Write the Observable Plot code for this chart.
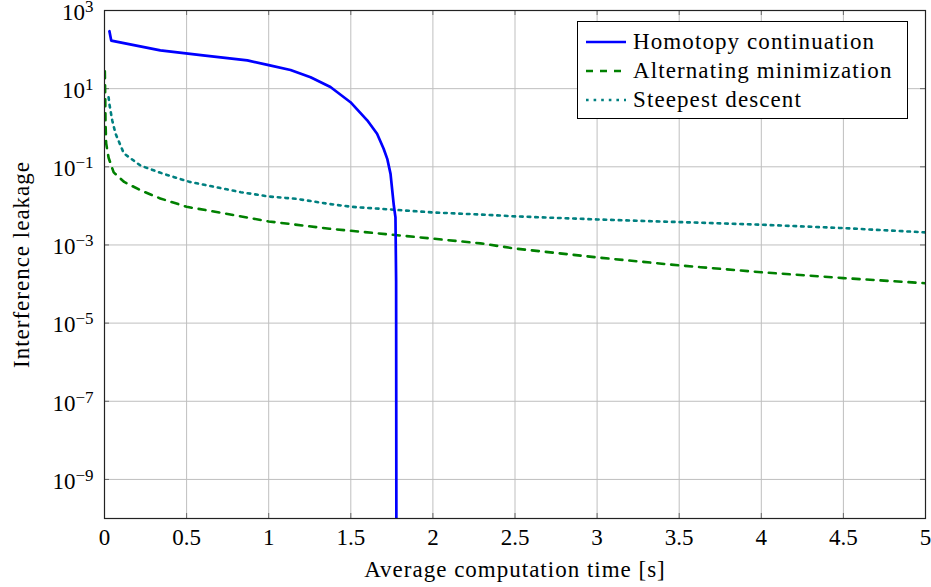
<!DOCTYPE html>
<html>
<head>
<meta charset="utf-8">
<script src="https://cdn.jsdelivr.net/npm/d3@7"></script>
<script src="https://cdn.jsdelivr.net/npm/@observablehq/plot@0.6"></script>
<style>
  html, body { margin: 0; padding: 0; background: #fff; }
  #wrap { position: relative; width: 931px; height: 587px; font-family: "Liberation Serif", "Times New Roman", serif; }
  #legend {
    position: absolute; left: 577px; top: 21px; width: 331px; height: 98px;
    border: 1px solid #000; background: #fff; box-sizing: border-box;
  }
  #legend .row { position: absolute; left: 8px; height: 29px; display: flex; align-items: center; font-size: 23px; letter-spacing: 1.1px; white-space: nowrap; }
  #legend svg { margin-right: 7px; }
</style>
</head>
<body>
<div id="wrap"></div>
<script>
// Homotopy continuation: time (s) and interference leakage
const homotopyTime = [0.03, 0.041, 0.34, 0.6, 0.87, 1.0, 1.133, 1.255, 1.376, 1.498, 1.6, 1.66, 1.70, 1.722, 1.742, 1.762, 1.772, 1.776, 1.778];
const homotopyLeak = [295, 170, 95, 71, 53, 40, 30, 19.5, 11, 4.5, 1.55, 0.70, 0.29, 0.16, 0.066, 0.0102, 0.0051, 1.2e-4, 1e-12];

// Alternating minimization
const altTime = [0.002, 0.004, 0.006, 0.01, 0.025, 0.056, 0.12, 0.22, 0.34, 0.5, 0.75, 1.0, 1.37, 2.0, 2.29, 2.5, 3.0, 3.5, 3.63, 4.0, 4.5, 5.0];
const altLeak = [28, 8, 1.5, 0.4, 0.17, 0.072, 0.041, 0.025, 0.0155, 0.0095, 0.0062, 0.0040, 0.0026, 0.00145, 0.0011, 8.1e-4, 4.8e-4, 3.0e-4, 2.7e-4, 2.0e-4, 1.42e-4, 1.05e-4];

// Steepest descent
const sdTime = [0.025, 0.03, 0.047, 0.067, 0.118, 0.22, 0.36, 0.52, 0.83, 1.0, 1.17, 1.37, 1.5, 2.0, 2.29, 2.5, 3.0, 3.63, 4.0, 4.5, 5.0];
const sdLeak = [6, 4, 1.55, 0.71, 0.22, 0.107, 0.066, 0.041, 0.0224, 0.0174, 0.0151, 0.0112, 0.0095, 0.0068, 0.006, 0.0054, 0.0045, 0.0037, 0.0033, 0.0027, 0.0021];

const xTicks = [0, 0.5, 1, 1.5, 2, 2.5, 3, 3.5, 4, 4.5, 5];
const yTicks = [1e-9, 1e-7, 1e-5, 1e-3, 1e-1, 1e1, 1e3];

const seriesNames = ["Homotopy continuation", "Alternating minimization", "Steepest descent"];
const seriesColors = ["#0000ff", "#008000", "#008080"];
const seriesDash = [null, "7,7", "2.6,5"];

const toRows = (t, v) => t.map((x, i) => ({x, y: v[i]}));
const homotopy = toRows(homotopyTime, homotopyLeak);
const alternating = toRows(altTime, altLeak);
const steepest = toRows(sdTime, sdLeak);

const W = 931, H = 587, mL = 104, mR = 6, mT = 10, mB = 69;
const innerH = H - mT - mB, innerW = W - mL - mR, tick = 5;
const gridStyle = {stroke: "#bfbfbf", strokeOpacity: 1, strokeWidth: 1};
const tickStyle = {stroke: "#6a6a6a", strokeWidth: 1};

const chart = Plot.plot({
  width: W, height: H,
  marginLeft: mL, marginRight: mR, marginTop: mT, marginBottom: mB,
  style: {fontFamily: '"Liberation Serif", "Times New Roman", serif', fontSize: "23px", background: "#fff", color: "#000", overflow: "visible"},
  x: {domain: [0, 5]},
  y: {type: "log", domain: [1e-10, 1e3]},
  marks: [
    Plot.gridX(xTicks, gridStyle),
    Plot.gridY(yTicks, gridStyle),
    Plot.tickX(xTicks, {x: d => d, insetTop: innerH - tick, ...tickStyle}),
    Plot.tickX(xTicks, {x: d => d, insetBottom: innerH - tick, ...tickStyle}),
    Plot.tickY(yTicks, {y: d => d, insetRight: innerW - tick, ...tickStyle}),
    Plot.tickY(yTicks, {y: d => d, insetLeft: innerW - tick, ...tickStyle}),
    Plot.line(steepest, {x: "x", y: "y", stroke: seriesColors[2], strokeWidth: 2.6, strokeDasharray: seriesDash[2], clip: true}),
    Plot.line(alternating, {x: "x", y: "y", stroke: seriesColors[1], strokeWidth: 2.6, strokeDasharray: seriesDash[1], clip: true}),
    Plot.line(homotopy, {x: "x", y: "y", stroke: seriesColors[0], strokeWidth: 2.7, clip: true}),
    Plot.frame({stroke: "#222", strokeWidth: 1.2}),
    Plot.axisX({ticks: xTicks, tickSize: 0, tickPadding: 10, tickFormat: d => String(d),
      label: "Average computation time [s]", labelAnchor: "center", labelArrow: "none", labelOffset: 58}),
    Plot.axisY({ticks: yTicks, tickSize: 0, tickPadding: 11, tickFormat: d => "10^" + Math.round(Math.log10(d)),
      label: "Interference leakage", labelAnchor: "center", labelArrow: "none", labelOffset: 92})
  ]
});

// Render exponents of the y tick labels as raised text
d3.select(chart).selectAll('g[aria-label="y-axis tick label"] text').each(function () {
  const m = /^10\^(-?\d+)$/.exec(this.textContent);
  if (!m) return;
  const t = d3.select(this);
  t.text("");
  t.append("tspan").attr("dy", "2").text("10");
  t.append("tspan").attr("dy", "-8").attr("font-size", "17px").text(m[1].replace("-", "\u2212"));
});
d3.select(chart).selectAll('g[aria-label="x-axis label"] text, g[aria-label="y-axis label"] text')
  .style("letter-spacing", "1px");

const wrap = document.getElementById("wrap");
wrap.appendChild(chart);

// Legend box
const legend = document.createElement("div");
legend.id = "legend";
seriesNames.forEach((name, i) => {
  const row = document.createElement("div");
  row.className = "row";
  row.style.top = (5 + i * 29) + "px";
  const sw = d3.create("svg").attr("width", 40).attr("height", 10);
  sw.append("line").attr("x1", 0).attr("x2", 40).attr("y1", 5).attr("y2", 5)
    .attr("stroke", seriesColors[i]).attr("stroke-width", 2.6)
    .attr("stroke-dasharray", seriesDash[i]);
  row.appendChild(sw.node());
  row.appendChild(document.createTextNode(name));
  legend.appendChild(row);
});
wrap.appendChild(legend);
</script>
</body>
</html>
